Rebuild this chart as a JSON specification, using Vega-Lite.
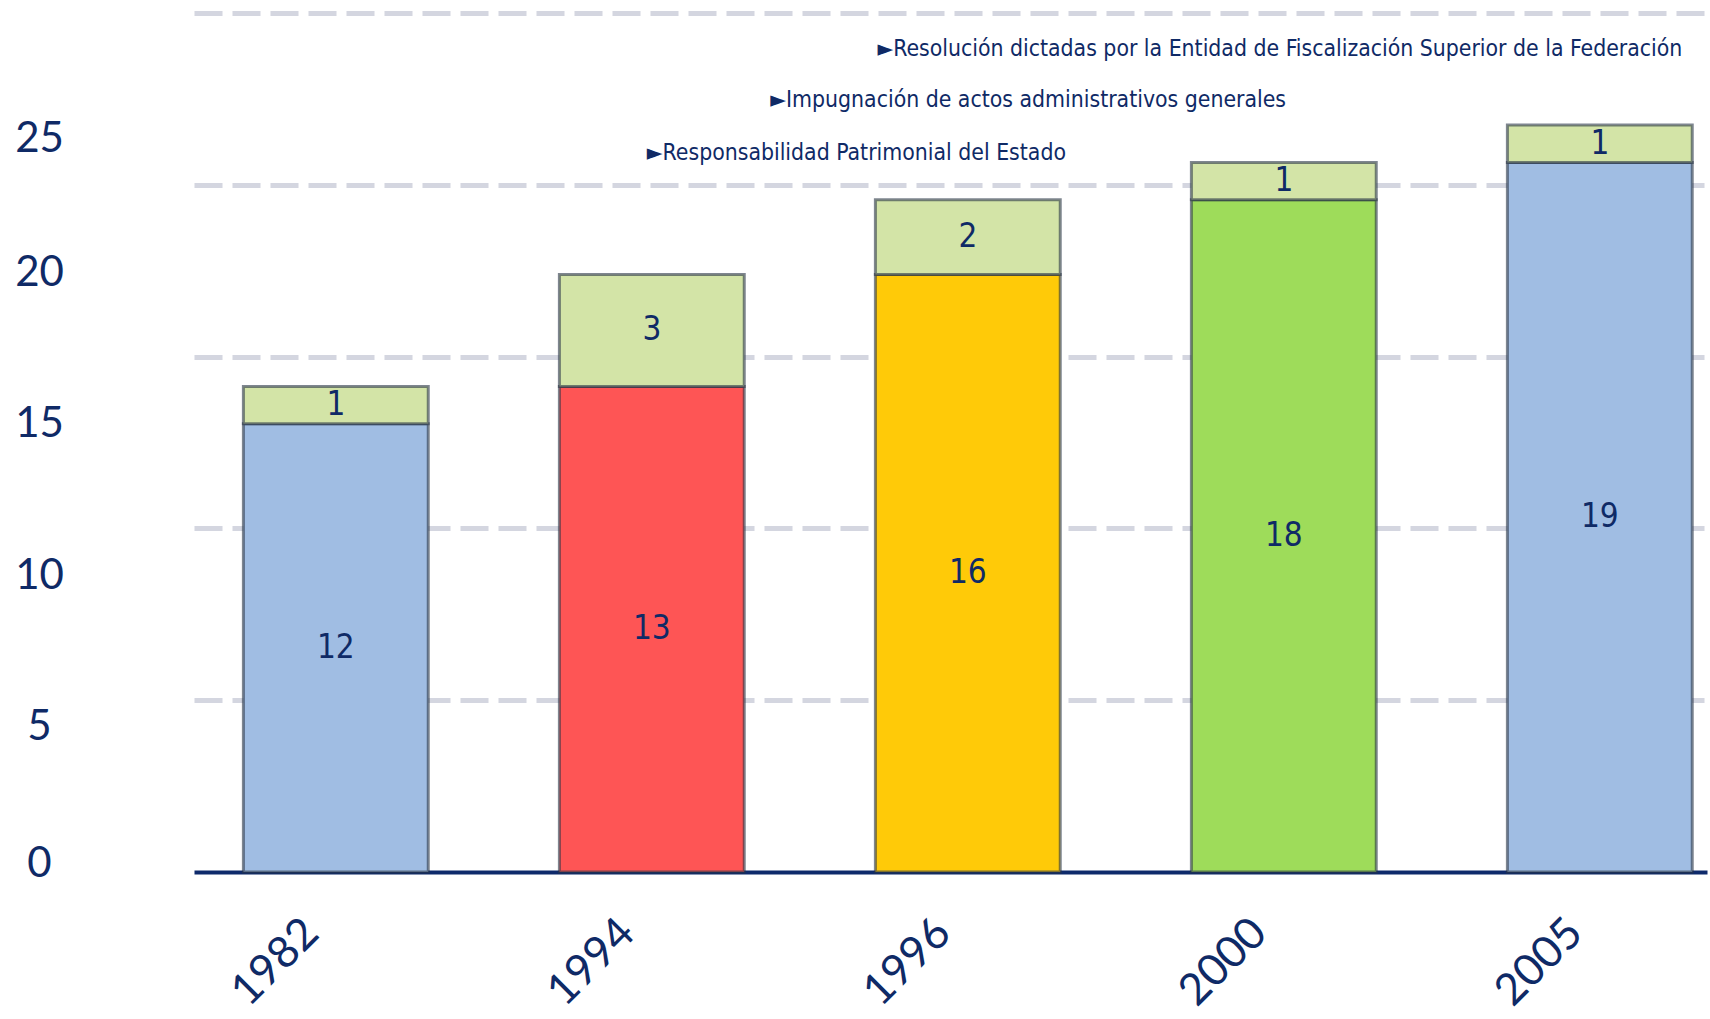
{
  "$schema": "https://vega.github.io/schema/vega-lite/v6.json",
  "width": 1513,
  "height": 859,
  "autosize": {"type": "none"},
  "padding": {"left": 194, "top": 13, "right": 3, "bottom": 147},
  "background": "white",
  "config": {"view": {"stroke": null}, "font": "Lato"},
  "datasets": {
    "barras": [
      {"anio": "1982", "segmento": "base", "valor": 12},
      {"anio": "1982", "segmento": "extra", "valor": 1},
      {"anio": "1994", "segmento": "base", "valor": 13},
      {"anio": "1994", "segmento": "extra", "valor": 3},
      {"anio": "1996", "segmento": "base", "valor": 16},
      {"anio": "1996", "segmento": "extra", "valor": 2},
      {"anio": "2000", "segmento": "base", "valor": 18},
      {"anio": "2000", "segmento": "extra", "valor": 1},
      {"anio": "2005", "segmento": "base", "valor": 19},
      {"anio": "2005", "segmento": "extra", "valor": 1}
    ],
    "notas": [
      {"linea": 1, "nota": "►Resolución dictadas por la Entidad de Fiscalización Superior de la Federación", "anio": "1996", "nivel": 22.03},
      {"linea": 2, "nota": "►Impugnación de actos administrativos generales", "anio": "1994", "nivel": 20.67},
      {"linea": 3, "nota": "►Responsabilidad  Patrimonial del Estado", "anio": "1994", "nivel": 19.25}
    ]
  },
  "layer": [
    {
      "data": {"name": "barras"},
      "encoding": {
        "x": {
          "field": "anio",
          "type": "nominal",
          "scale": {"paddingInner": 0.415, "paddingOuter": 0.1015, "align": 0.77},
          "axis": {
            "title": null,
            "labelAngle": -45,
            "labelAlign": "right",
            "labelBaseline": "middle",
            "labelFont": "Lato",
            "labelFontSize": 44,
            "labelColor": "#0f2a66",
            "labelPadding": 54,
            "labelOffset": -24,
            "ticks": false,
            "tickSize": 0,
            "domainColor": "#0e2a6b",
            "domainWidth": 4,
            "grid": false
          }
        },
        "y": {
          "field": "valor",
          "type": "quantitative",
          "stack": "zero",
          "scale": {"domain": [0, 23], "nice": false},
          "axis": {
            "values": [0.24, 3.9, 7.95, 12, 16.05, 19.65],
            "labelExpr": "format(round(datum.value/4)*5,'d')",
            "grid": false,
            "domain": false,
            "ticks": false,
            "tickSize": 0,
            "labelAlign": "center",
            "labelBaseline": "middle",
            "labelPadding": 155,
            "labelFont": "Lato",
            "labelFontSize": 42,
            "labelColor": "#0f2a66",
            "labelOverlap": false,
            "title": null
          }
        },
        "order": {"field": "segmento", "sort": "ascending"},
        "detail": {"field": "segmento"}
      },
      "layer": [
        {
          "mark": {"type": "bar", "stroke": "#2a3646", "strokeOpacity": 0.6, "strokeWidth": 3},
          "encoding": {
            "color": {
              "condition": {"test": "datum.segmento === 'extra'", "value": "#d3e4a7"},
              "field": "anio",
              "type": "nominal",
              "scale": {
                "domain": ["1982", "1994", "1996", "2000", "2005"],
                "range": ["#a0bde3", "#fe5555", "#ffca08", "#9edc5a", "#a0bde3"]
              },
              "legend": null
            }
          }
        },
        {
          "mark": {"type": "text", "font": "DejaVu Sans Condensed, Roboto, sans-serif", "fontSize": 33, "color": "#0f2a66", "baseline": "middle", "align": "center"},
          "encoding": {
            "y": {"field": "valor", "type": "quantitative", "stack": "zero", "bandPosition": 0.5},
            "text": {"field": "valor", "type": "quantitative"}
          }
        }
      ]
    },
    {
      "data": {"name": "notas"},
      "encoding": {
        "x": {"field": "anio", "type": "nominal"},
        "y": {
          "field": "nivel",
          "type": "quantitative",
          "scale": {"domain": [0, 23], "nice": false},
          "axis": {
            "orient": "left",
            "values": [4.6, 9.2, 13.8, 18.4, 23],
            "grid": true,
            "gridColor": "#d4d6e0",
            "gridWidth": 5,
            "gridDash": [28, 10],
            "labels": false,
            "ticks": false,
            "domain": false,
            "title": null
          }
        },
        "text": {"field": "nota", "type": "nominal"}
      },
      "layer": [
        {
          "transform": [{"filter": "datum.linea === 1"}],
          "mark": {"type": "text", "align": "left", "baseline": "middle", "dx": 2, "font": "DejaVu Sans Condensed, Roboto, sans-serif", "fontSize": 22.8, "color": "#0f2a66"},
          "encoding": {"x": {"field": "anio", "type": "nominal", "bandPosition": 0}}
        },
        {
          "transform": [{"filter": "datum.linea === 2"}],
          "mark": {"type": "text", "align": "left", "baseline": "middle", "dx": 26, "font": "DejaVu Sans Condensed, Roboto, sans-serif", "fontSize": 22.8, "color": "#0f2a66"},
          "encoding": {"x": {"field": "anio", "type": "nominal", "bandPosition": 1}}
        },
        {
          "transform": [{"filter": "datum.linea === 3"}],
          "mark": {"type": "text", "align": "left", "baseline": "middle", "dx": -5, "font": "DejaVu Sans Condensed, Roboto, sans-serif", "fontSize": 22.8, "color": "#0f2a66"},
          "encoding": {"x": {"field": "anio", "type": "nominal", "bandPosition": 0.5}}
        }
      ]
    }
  ],
  "resolve": {"scale": {"y": "independent"}, "axis": {"y": "independent"}}
}
